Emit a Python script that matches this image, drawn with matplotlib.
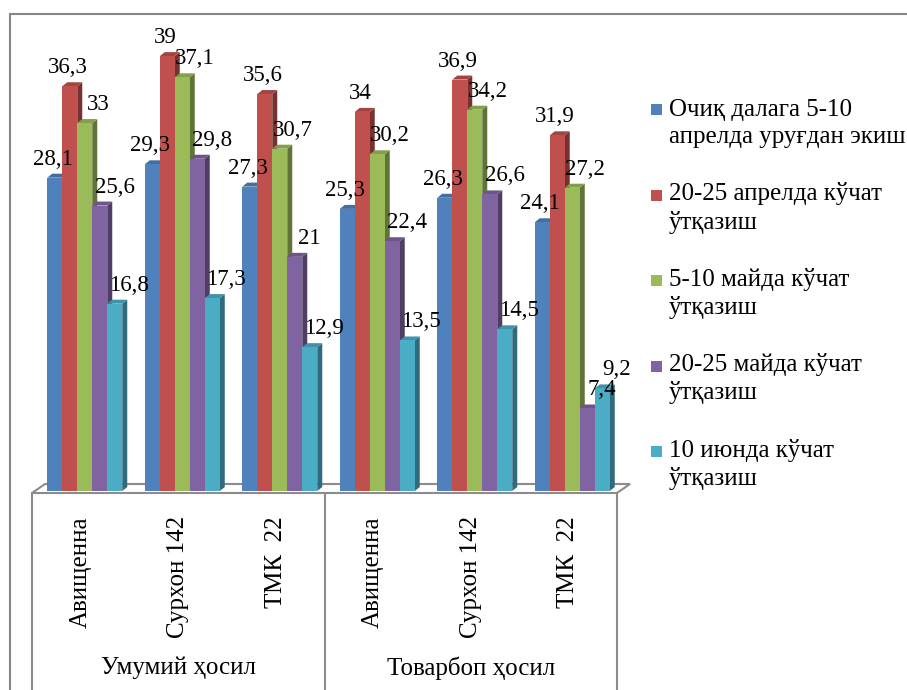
import numpy as np
import matplotlib
matplotlib.use('Agg')
import matplotlib.pyplot as plt
from matplotlib.patches import Polygon, Rectangle
from matplotlib import colors as mcolors

plt.rcParams['font.family'] = ['Liberation Serif', 'DejaVu Serif']
plt.rcParams['font.size'] = 18

# навлар ва ҳосил турлари
navlar = ['Авищенна', 'Сурхон 142', 'ТМК  22', 'Авищенна', 'Сурхон 142', 'ТМК  22']
hosil = ['Умумий ҳосил', 'Товарбоп ҳосил']

# муддатлар бўйича ҳосилдорлик
ochiq_dala = [28.1, 29.3, 27.3, 25.3, 26.3, 24.1]
aprel_20_25 = [36.3, 39, 35.6, 34, 36.9, 31.9]
may_5_10 = [33, 37.1, 30.7, 30.2, 34.2, 27.2]
may_20_25 = [25.6, 29.8, 21, 22.4, 26.6, 7.4]
iyun_10 = [16.8, 17.3, 12.9, 13.5, 14.5, 9.2]

qatorlar = [ochiq_dala, aprel_20_25, may_5_10, may_20_25, iyun_10]
nomlar = ['Очиқ далага 5-10\nапрелда уруғдан экиш',
          '20-25 апрелда кўчат\nўтқазиш',
          '5-10 майда кўчат\nўтқазиш',
          '20-25 майда кўчат\nўтқазиш',
          '10 июнда кўчат\nўтқазиш']
ranglar = ['#4F81BD', '#C0504D', '#9BBB59', '#8064A2', '#4BACC6']

W, H = 907, 690
fig = plt.figure(figsize=(W / 100, H / 100), dpi=100)
ax = fig.add_axes([32 / W, 199 / H, 585 / W, 446 / H])
ax.set_xlim(-0.5, 5.5)
ax.set_ylim(0, 40)
for s in ax.spines.values():
    s.set_visible(False)
ax.set_yticks([])

# пикселдан маълумот бирлигига ўтказиш
px_x = 6 / 585
px_y = 40 / 446
dx, dy = 5 * px_x, 4 * px_y

# пол (3D асос)
pol = Polygon([(-0.5, -2 * px_y), (5.5, -2 * px_y), (5.5 + 13 * px_x, 7 * px_y),
               (-0.5 + 13 * px_x, 7 * px_y)], closed=True, facecolor='white',
              edgecolor='#8c8c8c', lw=1.5, clip_on=False, zorder=1)
ax.add_patch(pol)

x = np.arange(len(navlar))
w = 15 * px_x
siljish = 4 * px_x
lbl_dx = [-2, -2, 13, 15, 14]

for j, (vals, rang) in enumerate(zip(qatorlar, ranglar)):
    xs = x + siljish + (j - 2) * w
    ax.bar(xs, vals, width=w, color=rang, zorder=3 + 2 * j)
    yon = tuple(c * 0.62 for c in mcolors.to_rgb(rang))
    tep = tuple(c * 0.85 for c in mcolors.to_rgb(rang))
    for xi, v in zip(xs, vals):
        x1 = xi + w / 2
        x0 = xi - w / 2
        ax.add_patch(Polygon([(x1, 0), (x1 + dx, dy), (x1 + dx, v + dy), (x1, v)],
                             closed=True, facecolor=yon, lw=0, zorder=2 + 2 * j))
        ax.add_patch(Polygon([(x0, v), (x1, v), (x1 + dx, v + dy), (x0 + dx, v + dy)],
                             closed=True, facecolor=tep, lw=0, zorder=2 + 2 * j))
        ax.annotate(str(v).replace('.', ','), (xi, v), xytext=(lbl_dx[j], 13),
                    textcoords='offset pixels', ha='center', va='baseline',
                    fontsize=16.5, zorder=20)

ax.set_xticks(x)
ax.set_xticklabels(navlar, rotation=90, va='top', ha='center')
ax.tick_params(axis='x', length=0, pad=18)

# тоифа қутиси
for xv in [-0.5, 2.5, 5.5]:
    ax.plot([xv, xv], [-2 * px_y, -30], color='#8c8c8c', lw=1.5, clip_on=False, zorder=1)
for gx, g in zip([1, 4], hosil):
    ax.annotate(g, (gx, 0), xycoords=('data', 'axes fraction'), xytext=(0, -177),
                textcoords='offset pixels', ha='center', va='center')

# афсона
for k, (nom, rang) in enumerate(zip(nomlar, ranglar)):
    yb = 117 + 85.5 * k
    fig.add_artist(Rectangle((651 / W, 1 - (yb - 2) / H), 11 / W, 11 / H,
                             transform=fig.transFigure, facecolor=rang, lw=0))
    fig.text(669 / W, 1 - (yb + 26) / H, nom, ha='left', va='baseline',
             linespacing=1.3)

# ташқи чегара
fig.add_artist(Rectangle((10 / W, -0.05), 1.1, 1 - 14 / H + 0.05,
                         transform=fig.transFigure, fill=False,
                         edgecolor='#868686', lw=1.5))

fig.savefig('out.png', dpi=100)
